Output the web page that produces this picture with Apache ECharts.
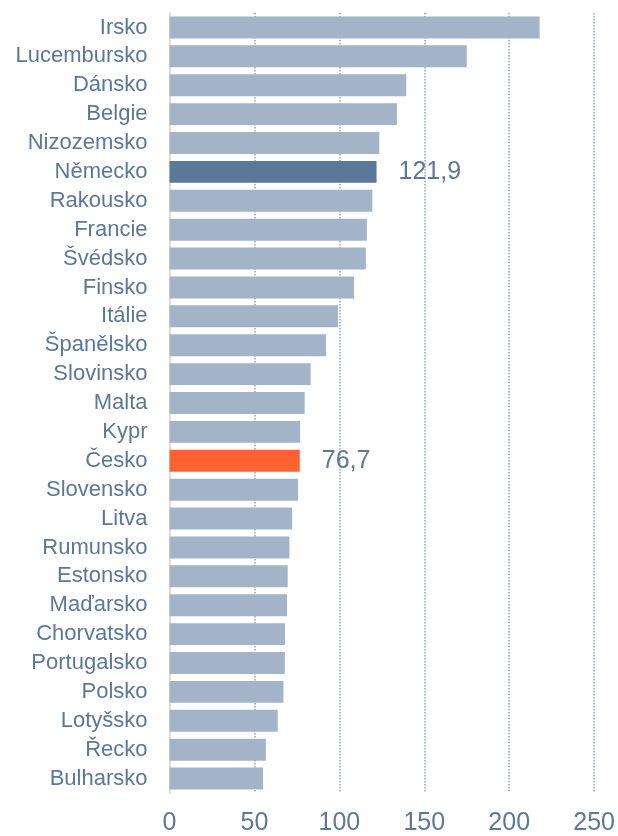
<!DOCTYPE html>
<html>
<head>
<meta charset="utf-8">
<script src="https://cdn.jsdelivr.net/npm/echarts@6/dist/echarts.min.js"></script>
<style>
  html, body { margin: 0; padding: 0; background: #fff; }
  #chart { width: 618px; height: 836px; }
</style>
</head>
<body>
<div id="chart"></div>
<script>
const countries = ['Irsko', 'Lucembursko', 'Dánsko', 'Belgie', 'Nizozemsko', 'Německo', 'Rakousko',
  'Francie', 'Švédsko', 'Finsko', 'Itálie', 'Španělsko', 'Slovinsko', 'Malta', 'Kypr', 'Česko',
  'Slovensko', 'Litva', 'Rumunsko', 'Estonsko', 'Maďarsko', 'Chorvatsko', 'Portugalsko', 'Polsko',
  'Lotyšsko', 'Řecko', 'Bulharsko']
const values = [217.9, 175.0, 139.4, 133.9, 123.5, 121.9, 119.4, 116.2, 115.6, 108.6, 99.2, 92.1,
  83.1, 79.6, 76.9, 76.7, 75.7, 72.2, 70.6, 69.6, 69.2, 68.0, 67.9, 67.1, 63.7, 56.7, 55.1]
const highlighted = { 'Německo': '#5b7899', 'Česko': '#ff6131' }
const xTicks = [0, 50, 100, 150, 200, 250]

const textColor = '#5b7899'
const fontFamily = '"Liberation Sans", Arial, sans-serif'

const chart = echarts.init(document.getElementById('chart'))

const barData = countries.map((name, i) => {
  const item = { value: values[i] }
  if (highlighted[name]) {
    item.itemStyle = { color: highlighted[name] }
    item.label = {
      show: true,
      position: 'right',
      distance: 22,
      color: textColor,
      fontSize: 25,
      fontFamily: fontFamily,
      formatter: (p) => String(p.value).replace('.', ',')
    }
  }
  return item
})

chart.setOption({
  animation: false,
  grid: { left: 169.5, right: 23, top: 13, bottom: 39, containLabel: false },
  xAxis: {
    type: 'value',
    min: xTicks[0],
    max: xTicks[xTicks.length - 1],
    interval: 50,
    axisLine: { show: false },
    axisTick: { show: false },
    axisLabel: { color: textColor, fontSize: 25, fontFamily: fontFamily, margin: 18 },
    splitLine: {
      show: true,
      lineStyle: { color: '#93a6be', type: 'dotted', width: 1.5 }
    }
  },
  yAxis: {
    type: 'category',
    inverse: true,
    data: countries,
    axisLine: { show: true, lineStyle: { color: '#dcdcdc', width: 2 } },
    axisTick: { show: false },
    axisLabel: { interval: 0, color: textColor, fontSize: 22, fontFamily: fontFamily, margin: 22 }
  },
  series: [{
    type: 'bar',
    data: barData,
    barCategoryGap: '24%',
    itemStyle: { color: '#a3b4c8' },
    z: 3
  }]
})
</script>
</body>
</html>
